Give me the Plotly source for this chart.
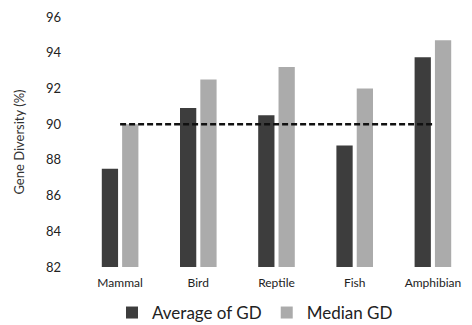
import plotly.graph_objects as go

# Gene diversity by vertebrate class
classes = ["Mammal", "Bird", "Reptile", "Fish", "Amphibian"]
avg_gd = [87.5, 90.9, 90.5, 88.8, 93.75]
median_gd = [90.0, 92.5, 93.2, 92.0, 94.7]
reference_level = [90, 90, 90, 90, 90]
y_ticks = [82, 84, 86, 88, 90, 92, 94, 96]

font_family = "Lato, 'Open Sans', sans-serif"

fig = go.Figure()
fig.add_trace(go.Bar(
    x=classes, y=avg_gd, name="Average of GD",
    marker=dict(color="#3d3d3d", line=dict(width=0)),
))
fig.add_trace(go.Bar(
    x=classes, y=median_gd, name="Median GD",
    marker=dict(color="#ababab", line=dict(width=0)),
))
fig.add_trace(go.Scatter(
    x=classes, y=reference_level, mode="lines", showlegend=False,
    line=dict(color="#111111", width=2.5, dash="6px,3px"),
    hoverinfo="skip",
))

fig.update_layout(
    width=472, height=325,
    margin=dict(l=81, r=0, t=17, b=58, autoexpand=False),
    paper_bgcolor="white", plot_bgcolor="white",
    barmode="group", bargap=0.48, bargroupgap=0.2,
    font=dict(family=font_family, color="#222222"),
    showlegend=True,
    legend=dict(
        orientation="h", x=0.445, xanchor="center",
        yref="container", y=0.037, yanchor="middle",
        font=dict(size=17, color="#222222"), itemsizing="constant",
        traceorder="normal", itemwidth=30,
    ),
    xaxis=dict(
        showgrid=False, showline=False, zeroline=False, ticks="",
        tickfont=dict(size=12, color="#222222"), ticklabelstandoff=7,
    ),
    yaxis=dict(
        range=[82, 96], tickvals=y_ticks, showgrid=False, showline=False,
        zeroline=False, ticks="", tickfont=dict(size=13, color="#222222"),
        ticklabelstandoff=19,
        title=dict(text="Gene Diversity (%)", font=dict(size=13, color="#333333"),
                   standoff=18),
    ),
)

fig.write_html("out.html")
